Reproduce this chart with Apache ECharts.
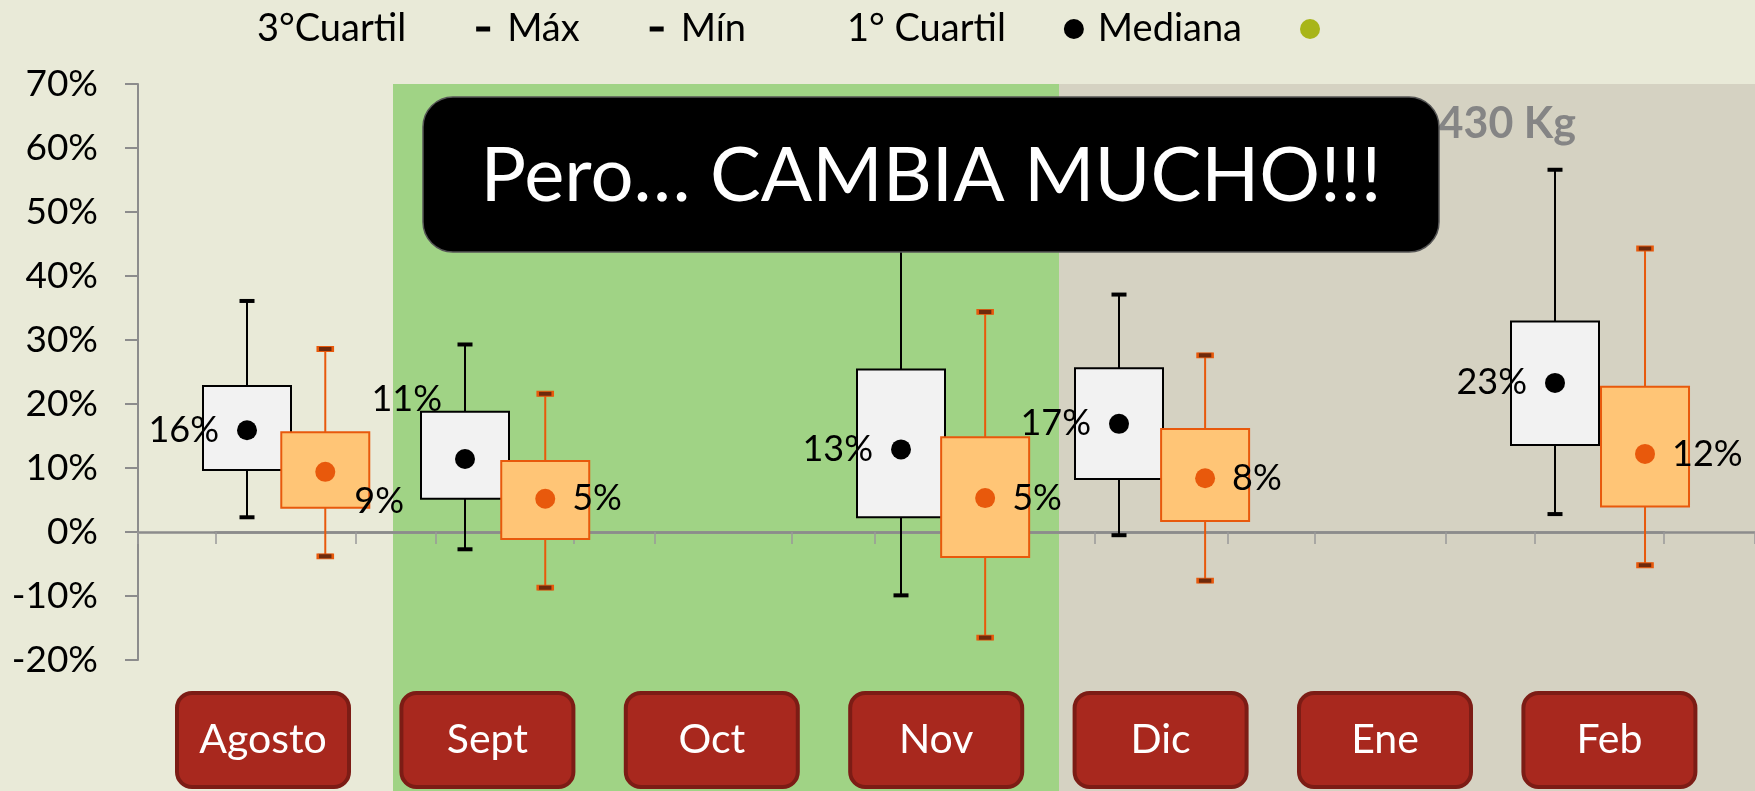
<!DOCTYPE html>
<html>
<head>
<meta charset="utf-8">
<script src="https://cdn.jsdelivr.net/npm/echarts@6/dist/echarts.min.js"></script>
<style>
html, body { margin: 0; padding: 0; background: #E9EAD8; }
#chart { width: 1755px; height: 791px; }
</style>
</head>
<body>
<div id="chart"></div>
<script>
// meses (categorias)
var meses = ['Agosto', 'Sept', 'Oct', 'Nov', 'Dic', 'Ene', 'Feb'];

// grupo blanco (%)
var blancoMax = [36.1, 29.3, null, 58.0, 37.1, null, 56.6];
var blancoQ3 = [22.8, 18.8, null, 25.4, 25.6, null, 32.9];
var blancoMed = [15.9, 11.4, null, 12.9, 16.9, null, 23.3];
var blancoQ1 = [9.7, 5.2, null, 2.3, 8.3, null, 13.6];
var blancoMin = [2.3, -2.7, null, -9.9, -0.5, null, 2.8];

// grupo naranja (%)
var naranjaMax = [28.6, 21.6, null, 34.4, 27.6, null, 44.3];
var naranjaQ3 = [15.6, 11.1, null, 14.8, 16.1, null, 22.7];
var naranjaMed = [9.4, 5.2, null, 5.3, 8.4, null, 12.2];
var naranjaQ1 = [3.8, -1.1, null, -3.9, 1.7, null, 4.0];
var naranjaMin = [-3.8, -8.7, null, -16.5, -7.6, null, -5.2];

var yTicks = [-20, -10, 0, 10, 20, 30, 40, 50, 60, 70];

var FONT = 'Lato, "Open Sans", sans-serif';

function puntos(arr) {
    var ret = [];
    for (var i = 0; i < arr.length; i++) {
        if (arr[i] !== null) ret.push([i, arr[i]]);
    }
    return ret;
}

function pares(a, b) {
    var ret = [];
    for (var i = 0; i < a.length; i++) {
        if (a[i] !== null && b[i] !== null) ret.push([i, a[i], b[i]]);
    }
    return ret;
}

function cajaRender(fill, stroke) {
    return function (params, api) {
        var x = api.value(0);
        var lo = api.coord([x, api.value(1)]);
        var hi = api.coord([x, api.value(2)]);
        return {
            type: 'rect',
            shape: { x: lo[0] - 44, y: hi[1], width: 88, height: lo[1] - hi[1] },
            style: { fill: fill, stroke: stroke, lineWidth: 2 }
        };
    };
}

function bigoteRender(stroke) {
    return function (params, api) {
        var x = api.value(0);
        var lo = api.coord([x, api.value(1)]);
        var hi = api.coord([x, api.value(2)]);
        return {
            type: 'line',
            shape: { x1: lo[0], y1: lo[1], x2: hi[0], y2: hi[1] },
            style: { stroke: stroke, lineWidth: 2 }
        };
    };
}

function medianas(arr, special, offset) {
    var ret = [];
    for (var i = 0; i < arr.length; i++) {
        if (arr[i] === null) continue;
        var item = { value: [i, arr[i]] };
        // etiqueta movida a mano en el original
        if (i === special) item.label = { offset: offset };
        ret.push(item);
    }
    return ret;
}

var etiqueta = function (p) { return Math.round(p.value[1]) + '%'; };

var dashIcon = 'path://M0,0M38,20M12,7.5h14v5h-14z';
var gridTop = 84, gridBottom = 131;

var ejeX = function (grid) {
    return {
        gridIndex: grid, type: 'category', data: meses,
        axisLine: { show: true, lineStyle: { color: '#8C8C8C', width: 2.5 } },
        axisTick: { show: true, length: 12, lineStyle: { color: '#999', width: 1.5 } },
        axisLabel: { show: false },
        splitLine: { show: false }
    };
};

var option = {
    backgroundColor: '#E9EAD8',
    animation: false,
    legend: {
        left: 214,
        top: 9,
        padding: 0,
        itemWidth: 38,
        itemHeight: 20,
        itemGap: 58,
        selectedMode: false,
        textStyle: { fontFamily: FONT, fontSize: 38, color: '#000', lineHeight: 40 },
        formatter: function (name) { return name === 'Promedio' ? '' : name; },
        data: [
            { name: '3°Cuartil', itemStyle: { opacity: 0 } },
            { name: 'Máx', icon: dashIcon, itemStyle: { color: '#000', opacity: 1 } },
            { name: 'Mín', icon: dashIcon, itemStyle: { color: '#000', opacity: 1 } },
            { name: '1° Cuartil', itemStyle: { opacity: 0 } },
            { name: 'Mediana', icon: 'circle', itemStyle: { color: '#000', opacity: 1 } },
            { name: 'Promedio', icon: 'circle', itemStyle: { color: '#A8B519', opacity: 1 } }
        ]
    },
    grid: [
        { left: 138, top: gridTop, width: 1526, bottom: gridBottom },
        { left: 215.3, top: gridTop, width: 1549.3, bottom: gridBottom },
        { left: 150.8, top: gridTop, width: 1570.8, bottom: gridBottom }
    ],
    xAxis: [
        ejeX(0),
        ejeX(1),
        {
            // botones de los meses
            gridIndex: 2, type: 'category', data: meses, position: 'bottom',
            axisLine: { show: false, onZero: false },
            axisTick: { show: false },
            axisLabel: {
                interval: 0,
                margin: 35,
                color: '#fff',
                fontFamily: FONT,
                fontSize: 41,
                backgroundColor: '#A8281E',
                borderColor: '#7C1C15',
                borderWidth: 4,
                borderRadius: 13,
                width: 168,
                height: 90,
                lineHeight: 90,
                align: 'center',
                padding: 0
            }
        }
    ],
    yAxis: [
        {
            gridIndex: 0, type: 'value', min: -20, max: 70, interval: 10,
            splitLine: { show: false },
            axisLine: { show: true, lineStyle: { color: '#8C8C8C', width: 2 } },
            axisTick: { show: true, length: 13, lineStyle: { color: '#8C8C8C', width: 2 } },
            axisLabel: {
                margin: 40, color: '#000', fontFamily: FONT, fontSize: 37,
                formatter: function (v) { return yTicks.indexOf(v) >= 0 ? v + '%' : ''; }
            }
        },
        { gridIndex: 1, type: 'value', min: -20, max: 70, interval: 10, show: false },
        { gridIndex: 2, type: 'value', min: -20, max: 70, interval: 10, show: false }
    ],
    graphic: [
        { type: 'rect', z: -10, shape: { x: 393, y: 84, width: 666, height: 707 }, style: { fill: '#A0D385' } },
        { type: 'rect', z: -10, shape: { x: 1059, y: 84, width: 696, height: 707 }, style: { fill: '#D5D2C2' } },
        {
            type: 'text', z: 50,
            style: {
                text: '-430 Kg', x: 1576, y: 124, textAlign: 'right', align: 'right',
                textVerticalAlign: 'middle', verticalAlign: 'middle',
                fill: '#858585', font: 'bold 43px ' + FONT
            }
        },
        {
            type: 'rect', z: 100,
            shape: { x: 423, y: 97, width: 1016, height: 155, r: 30 },
            style: { fill: '#000', stroke: '#555', lineWidth: 1.5 }
        },
        {
            type: 'text', z: 101,
            style: {
                text: 'Pero… CAMBIA MUCHO!!!', x: 931, y: 176, textAlign: 'center', align: 'center',
                textVerticalAlign: 'middle', verticalAlign: 'middle',
                fill: '#fff', font: '76px ' + FONT
            }
        }
    ],
    series: [
        // grupo blanco
        {
            name: '1° Cuartil', type: 'custom', xAxisIndex: 0, yAxisIndex: 0,
            itemStyle: { color: '#000' },
            renderItem: bigoteRender('#000'), data: pares(blancoMin, blancoMax)
        },
        {
            name: '3°Cuartil', type: 'custom', xAxisIndex: 0, yAxisIndex: 0,
            itemStyle: { color: '#F2F2F2' },
            renderItem: cajaRender('#F2F2F2', '#000'), data: pares(blancoQ1, blancoQ3)
        },
        {
            name: 'Máx', type: 'scatter', xAxisIndex: 0, yAxisIndex: 0,
            symbol: 'rect', symbolSize: [15, 4], itemStyle: { color: '#000', opacity: 1 },
            data: puntos(blancoMax)
        },
        {
            name: 'Mín', type: 'scatter', xAxisIndex: 0, yAxisIndex: 0,
            symbol: 'rect', symbolSize: [15, 4], itemStyle: { color: '#000', opacity: 1 },
            data: puntos(blancoMin)
        },
        // grupo naranja
        {
            name: '1° Cuartil N', type: 'custom', xAxisIndex: 1, yAxisIndex: 1,
            renderItem: bigoteRender('#E8590C'), data: pares(naranjaMin, naranjaMax)
        },
        {
            name: '3°Cuartil N', type: 'custom', xAxisIndex: 1, yAxisIndex: 1,
            renderItem: cajaRender('#FFC576', '#E8590C'), data: pares(naranjaQ1, naranjaQ3)
        },
        {
            name: 'Máx N', type: 'scatter', xAxisIndex: 1, yAxisIndex: 1,
            symbol: 'rect', symbolSize: [15, 5],
            itemStyle: { color: '#6E2A0C', borderColor: '#E8590C', borderWidth: 1.5, opacity: 1 },
            data: puntos(naranjaMax)
        },
        {
            name: 'Mín N', type: 'scatter', xAxisIndex: 1, yAxisIndex: 1,
            symbol: 'rect', symbolSize: [15, 5],
            itemStyle: { color: '#6E2A0C', borderColor: '#E8590C', borderWidth: 1.5, opacity: 1 },
            data: puntos(naranjaMin)
        },
        // medianas
        {
            name: 'Mediana', type: 'scatter', xAxisIndex: 0, yAxisIndex: 0, z: 5,
            symbolSize: 20, itemStyle: { color: '#000', opacity: 1 },
            label: {
                show: true, position: 'left', distance: 18, formatter: etiqueta,
                color: '#000', fontFamily: FONT, fontSize: 36
            },
            data: medianas(blancoMed, 1, [5, -60])
        },
        {
            name: 'Mediana N', type: 'scatter', xAxisIndex: 1, yAxisIndex: 1, z: 5,
            symbolSize: 20, itemStyle: { color: '#E8590C', opacity: 1 },
            label: {
                show: true, position: 'right', distance: 17, formatter: etiqueta,
                color: '#000', fontFamily: FONT, fontSize: 36
            },
            data: medianas(naranjaMed, 0, [2, 30])
        },
        {
            name: 'Promedio', type: 'scatter', xAxisIndex: 0, yAxisIndex: 0,
            itemStyle: { color: '#A8B519', opacity: 1 }, data: []
        }
    ]
};

var chart = echarts.init(document.getElementById('chart'));
chart.setOption(option);
</script>
</body>
</html>
